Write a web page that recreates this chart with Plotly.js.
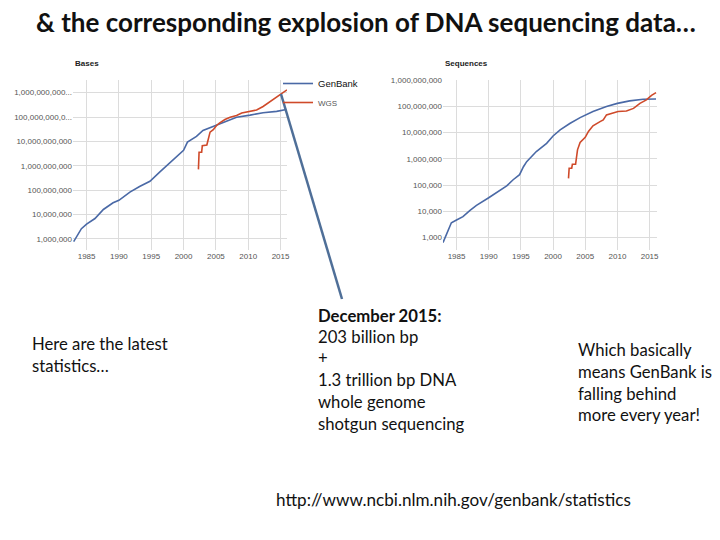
<!DOCTYPE html>
<html>
<head>
<meta charset="utf-8">
<script src="https://cdn.plot.ly/plotly-3.0.1.min.js"></script>
<style>
  body { margin: 0; background: #fff; }
  #chart { width: 720px; height: 540px; }
</style>
</head>
<body>
<div id="chart"></div>
<script>
// Bases (left chart)
const basesGenbankYears = [1983.0, 1984.2, 1985.0, 1986.3, 1987.6, 1989.1, 1990.0, 1991.7, 1993.2, 1994.8, 1996.3, 1997.9, 1999.4, 2000.0, 2000.6, 2002.0, 2003.0, 2004.6, 2006.1, 2008.2, 2010.3, 2012.3, 2014.4, 2015.4, 2015.9];
const basesGenbank = [7.6e5, 2.6e6, 4.0e6, 6.8e6, 1.6e7, 3.0e7, 3.8e7, 8.3e7, 1.4e8, 2.3e8, 5.5e8, 1.3e9, 3.1e9, 4.3e9, 9.3e9, 1.6e10, 2.8e10, 4.1e10, 6.2e10, 9.8e10, 1.2e11, 1.5e11, 1.7e11, 1.95e11, 2.03e11];
const basesWgsYears = [2002.3, 2002.4, 2002.8, 2002.9, 2003.6, 2004.1, 2004.6, 2005.1, 2005.6, 2006.4, 2007.2, 2008.2, 2009.0, 2010.3, 2011.3, 2012.3, 2013.4, 2014.4, 2015.2, 2016.0];
const basesWgs = [7.1e8, 3.6e9, 3.6e9, 6.6e9, 7.1e9, 2.4e10, 3.0e10, 4.5e10, 5.8e10, 7.9e10, 9.8e10, 1.15e11, 1.45e11, 1.7e11, 1.95e11, 2.7e11, 4.3e11, 6.9e11, 9.5e11, 1.3e12];

// Sequences (right chart)
const seqGenbankYears = [1982.9, 1983.7, 1984.2, 1985.0, 1986.0, 1987.1, 1988.1, 1990.0, 1991.2, 1992.8, 1993.8, 1994.8, 1995.4, 1995.9, 1997.4, 1999.0, 2000.0, 2001.1, 2002.6, 2004.2, 2006.2, 2008.3, 2010.0, 2011.9, 2014.0, 2016.0];
const seqGenbank = [650, 1950, 3700, 4700, 6300, 11000, 17000, 33000, 51000, 93000, 1.6e5, 2.5e5, 5.0e5, 7.8e5, 1.9e6, 3.9e6, 7.4e6, 1.26e7, 2.2e7, 3.7e7, 6.3e7, 9.8e7, 1.29e8, 1.6e8, 1.86e8, 1.89e8];
const seqWgsYears = [2002.4, 2002.5, 2002.9, 2003.0, 2003.5, 2003.8, 2004.2, 2005.0, 2005.5, 2006.2, 2007.3, 2007.8, 2008.3, 2009.4, 2010.1, 2011.4, 2012.5, 2013.5, 2014.5, 2015.3, 2016.0];
const seqWgs = [1.8e5, 4.4e5, 4.4e5, 6.2e5, 6.2e5, 2.2e6, 4.2e6, 6.6e6, 1.1e7, 1.8e7, 2.6e7, 3.0e7, 4.7e7, 5.4e7, 6.3e7, 6.6e7, 8.3e7, 1.29e8, 1.74e8, 2.6e8, 3.3e8];

const yearTicks = [1985, 1990, 1995, 2000, 2005, 2010, 2015];
const basesTickVals = [1e6, 1e7, 1e8, 1e9, 1e10, 1e11, 1e12];
const basesTickText = ['1,000,000', '10,000,000', '100,000,000', '1,000,000,000', '10,000,000,000', '100,000,000,0...', '1,000,000,000...'];
const seqTickVals = [1e3, 1e4, 1e5, 1e6, 1e7, 1e8, 1e9];
const seqTickText = ['1,000', '10,000', '100,000', '1,000,000', '10,000,000', '100,000,000', '1,000,000,000'];

const BLUE = '#4a69a6';
const RED = '#cf4a2a';
const W = 720, H = 540;
const px = (x) => x / W;
const py = (y) => 1 - y / H;

const traces = [
  { x: basesGenbankYears, y: basesGenbank, mode: 'lines', name: '<span style="font-size:9.5px;color:#111">GenBank</span>',
    line: { color: BLUE, width: 1.6 }, xaxis: 'x', yaxis: 'y' },
  { x: basesWgsYears, y: basesWgs, mode: 'lines', name: 'WGS',
    line: { color: RED, width: 1.6 }, xaxis: 'x', yaxis: 'y' },
  { x: seqGenbankYears, y: seqGenbank, mode: 'lines', showlegend: false,
    line: { color: BLUE, width: 1.6 }, xaxis: 'x2', yaxis: 'y2' },
  { x: seqWgsYears, y: seqWgs, mode: 'lines', showlegend: false,
    line: { color: RED, width: 1.6 }, xaxis: 'x2', yaxis: 'y2' }
];

const tickFont = { family: 'Liberation Sans, Arial, sans-serif', size: 8, color: '#555' };
const xaxisBase = {
  tickvals: yearTicks, ticks: '', showgrid: true, gridcolor: '#dcdcdc', zeroline: false,
  showline: false, tickfont: tickFont, fixedrange: true
};
const yaxisBase = {
  type: 'log', ticks: '', showgrid: true, gridcolor: '#dcdcdc', zeroline: false,
  showline: false, tickfont: tickFont, fixedrange: true
};

const slideFont = 'Lato, "Open Sans", sans-serif';
const textLine = (text, x, y, size, bold) => ({
  text: bold ? '<b>' + text + '</b>' : text,
  x: px(x - 2), y: py(y), xref: 'paper', yref: 'paper',
  xanchor: 'left', yanchor: 'middle', showarrow: false,
  font: { family: slideFont, size: size, color: '#111' }
});

const annotations = [
  { text: '<b>& the corresponding explosion of DNA sequencing data…</b>', x: px(366), y: py(22),
    xref: 'paper', yref: 'paper', xanchor: 'center', yanchor: 'middle', showarrow: false,
    font: { family: slideFont, size: 26, color: '#111' } },
  { text: '<b>Bases</b>', x: px(73), y: py(63), xref: 'paper', yref: 'paper', xanchor: 'left',
    yanchor: 'middle', showarrow: false, font: { family: 'Liberation Sans, Arial', size: 8, color: '#222' } },
  { text: '<b>Sequences</b>', x: px(443), y: py(63), xref: 'paper', yref: 'paper', xanchor: 'left',
    yanchor: 'middle', showarrow: false, font: { family: 'Liberation Sans, Arial', size: 8, color: '#222' } },
  textLine('Here are the latest', 32, 344, 16.7),
  textLine('statistics…', 32, 366, 16.7),
  textLine('December 2015:', 318, 316, 16.7, true),
  textLine('203 billion bp', 318, 337, 16.7),
  textLine('+', 318, 358, 16.7),
  textLine('1.3 trillion bp DNA', 318, 380, 16.7),
  textLine('whole genome', 318, 402, 16.7),
  textLine('shotgun sequencing', 318, 424, 16.7),
  textLine('Which basically', 578, 350, 16.7),
  textLine('means GenBank is', 578, 372, 16.7),
  textLine('falling behind', 578, 394, 16.7),
  textLine('more every year!', 578, 415, 16.7),
  textLine('http://www.ncbi.nlm.nih.gov/genbank/statistics', 276, 499, 17.1)
];

const layout = {
  width: W, height: H,
  margin: { l: 0, r: 0, t: 0, b: 0 },
  paper_bgcolor: '#fff', plot_bgcolor: '#fff',
  showlegend: true,
  legend: {
    x: px(278), y: py(69), xanchor: 'left', yanchor: 'top',
    bgcolor: 'rgba(0,0,0,0)', font: { family: 'Liberation Sans, Arial', size: 8, color: '#555' },
    tracegroupgap: 0
  },
  xaxis: Object.assign({}, xaxisBase, { domain: [px(73), px(287)], range: [1982.9, 2016.0], anchor: 'y' }),
  yaxis: Object.assign({}, yaxisBase, { domain: [py(250), py(80)], range: [5.54, 12.52], anchor: 'x',
    tickvals: basesTickVals, ticktext: basesTickText }),
  xaxis2: Object.assign({}, xaxisBase, { domain: [px(443), px(657)], range: [1982.9, 2016.15], anchor: 'y2' }),
  yaxis2: Object.assign({}, yaxisBase, { domain: [py(250), py(80)], range: [2.53, 9.0], anchor: 'x2',
    tickvals: seqTickVals, ticktext: seqTickText }),
  annotations: annotations,
  shapes: [
    // pointer from the text block up to the end of the WGS line
    { type: 'line', xref: 'paper', yref: 'paper', x0: px(342), y0: py(299), x1: px(281), y1: py(94),
      line: { color: '#4f6f98', width: 2.5 } }
  ]
};

Plotly.newPlot('chart', traces, layout, { displayModeBar: false, staticPlot: true });
</script>
</body>
</html>
